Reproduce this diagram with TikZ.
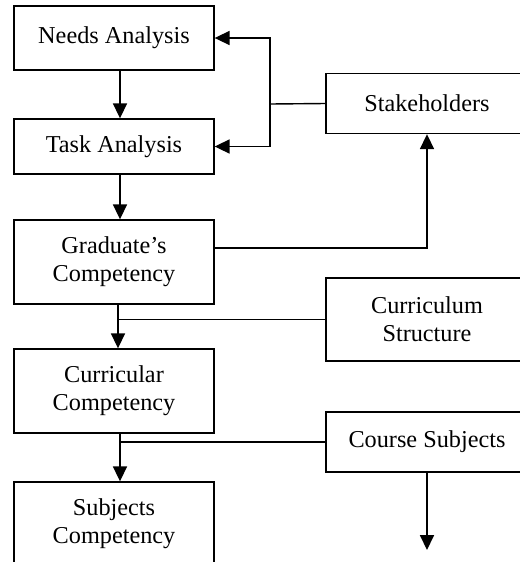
\documentclass[tikz,border=0pt]{standalone}
\usepackage{fontspec}
\setmainfont{Liberation Serif}
\usetikzlibrary{arrows.meta}
\tikzset{
  box/.style={draw, line width=0.8pt, align=center, font=\fontsize{13.8}{16}\selectfont, minimum width=4cm},
  sidebox/.style={box, minimum width=4.04cm}
}
\begin{document}
\begin{tikzpicture}[x=0.02cm, y=-0.02cm, line width=0.8pt, >={Triangle[length=8.5pt,width=8pt]}]
 \clip (0,0) rectangle (520,562);
 % left column
 \node[box, minimum height=1.28cm] (needs) at (114,38) {Needs Analysis};
 \node[box, minimum height=1.1cm] (task) at (114,146.5) {Task Analysis};
 \node[box, minimum height=1.68cm] (grad) at (114,262) {Graduate’s\\Competency};
 \node[box, minimum height=1.68cm] (curr) at (114,391) {Curricular\\Competency};
 \node[box, minimum height=1.68cm] (subj) at (114,524) {Subjects\\Competency};
 % right column
 \node[sidebox, minimum height=1.2cm] (stake) at (427,103.5) {Stakeholders};
 \node[sidebox, minimum height=1.66cm] (struct) at (427,319.5) {Curriculum\\Structure};
 \node[sidebox, minimum height=1.2cm] (course) at (427,442) {Course Subjects};
 \coordinate (jn) at (270,104);
 \coordinate (out) at (427,550);
 % connectors
 \draw[->] ([xshift=0.12cm]needs.south) -- ([xshift=0.12cm]task.north);
 \draw[->] ([xshift=0.12cm]task.south) -- ([xshift=0.12cm]grad.north);
 \draw[->] ([xshift=0.08cm]grad.south) -- ([xshift=0.08cm]curr.north);
 \draw[->] ([xshift=0.12cm]curr.south) -- ([xshift=0.12cm]subj.north);
 \draw (stake.west) -- (jn);
 \draw[->] (jn) |- (needs.east);
 \draw[->] (jn) |- (task.east);
 \draw[->] ([yshift=0.28cm]grad.east) -| (stake.south);
 \draw (struct.west) -- ([xshift=0.08cm]struct.west -| grad.south);
 \draw (course.west) -- ([xshift=0.12cm]course.west -| curr.south);
 \draw[->] (course) -- (out);
\end{tikzpicture}
\end{document}
